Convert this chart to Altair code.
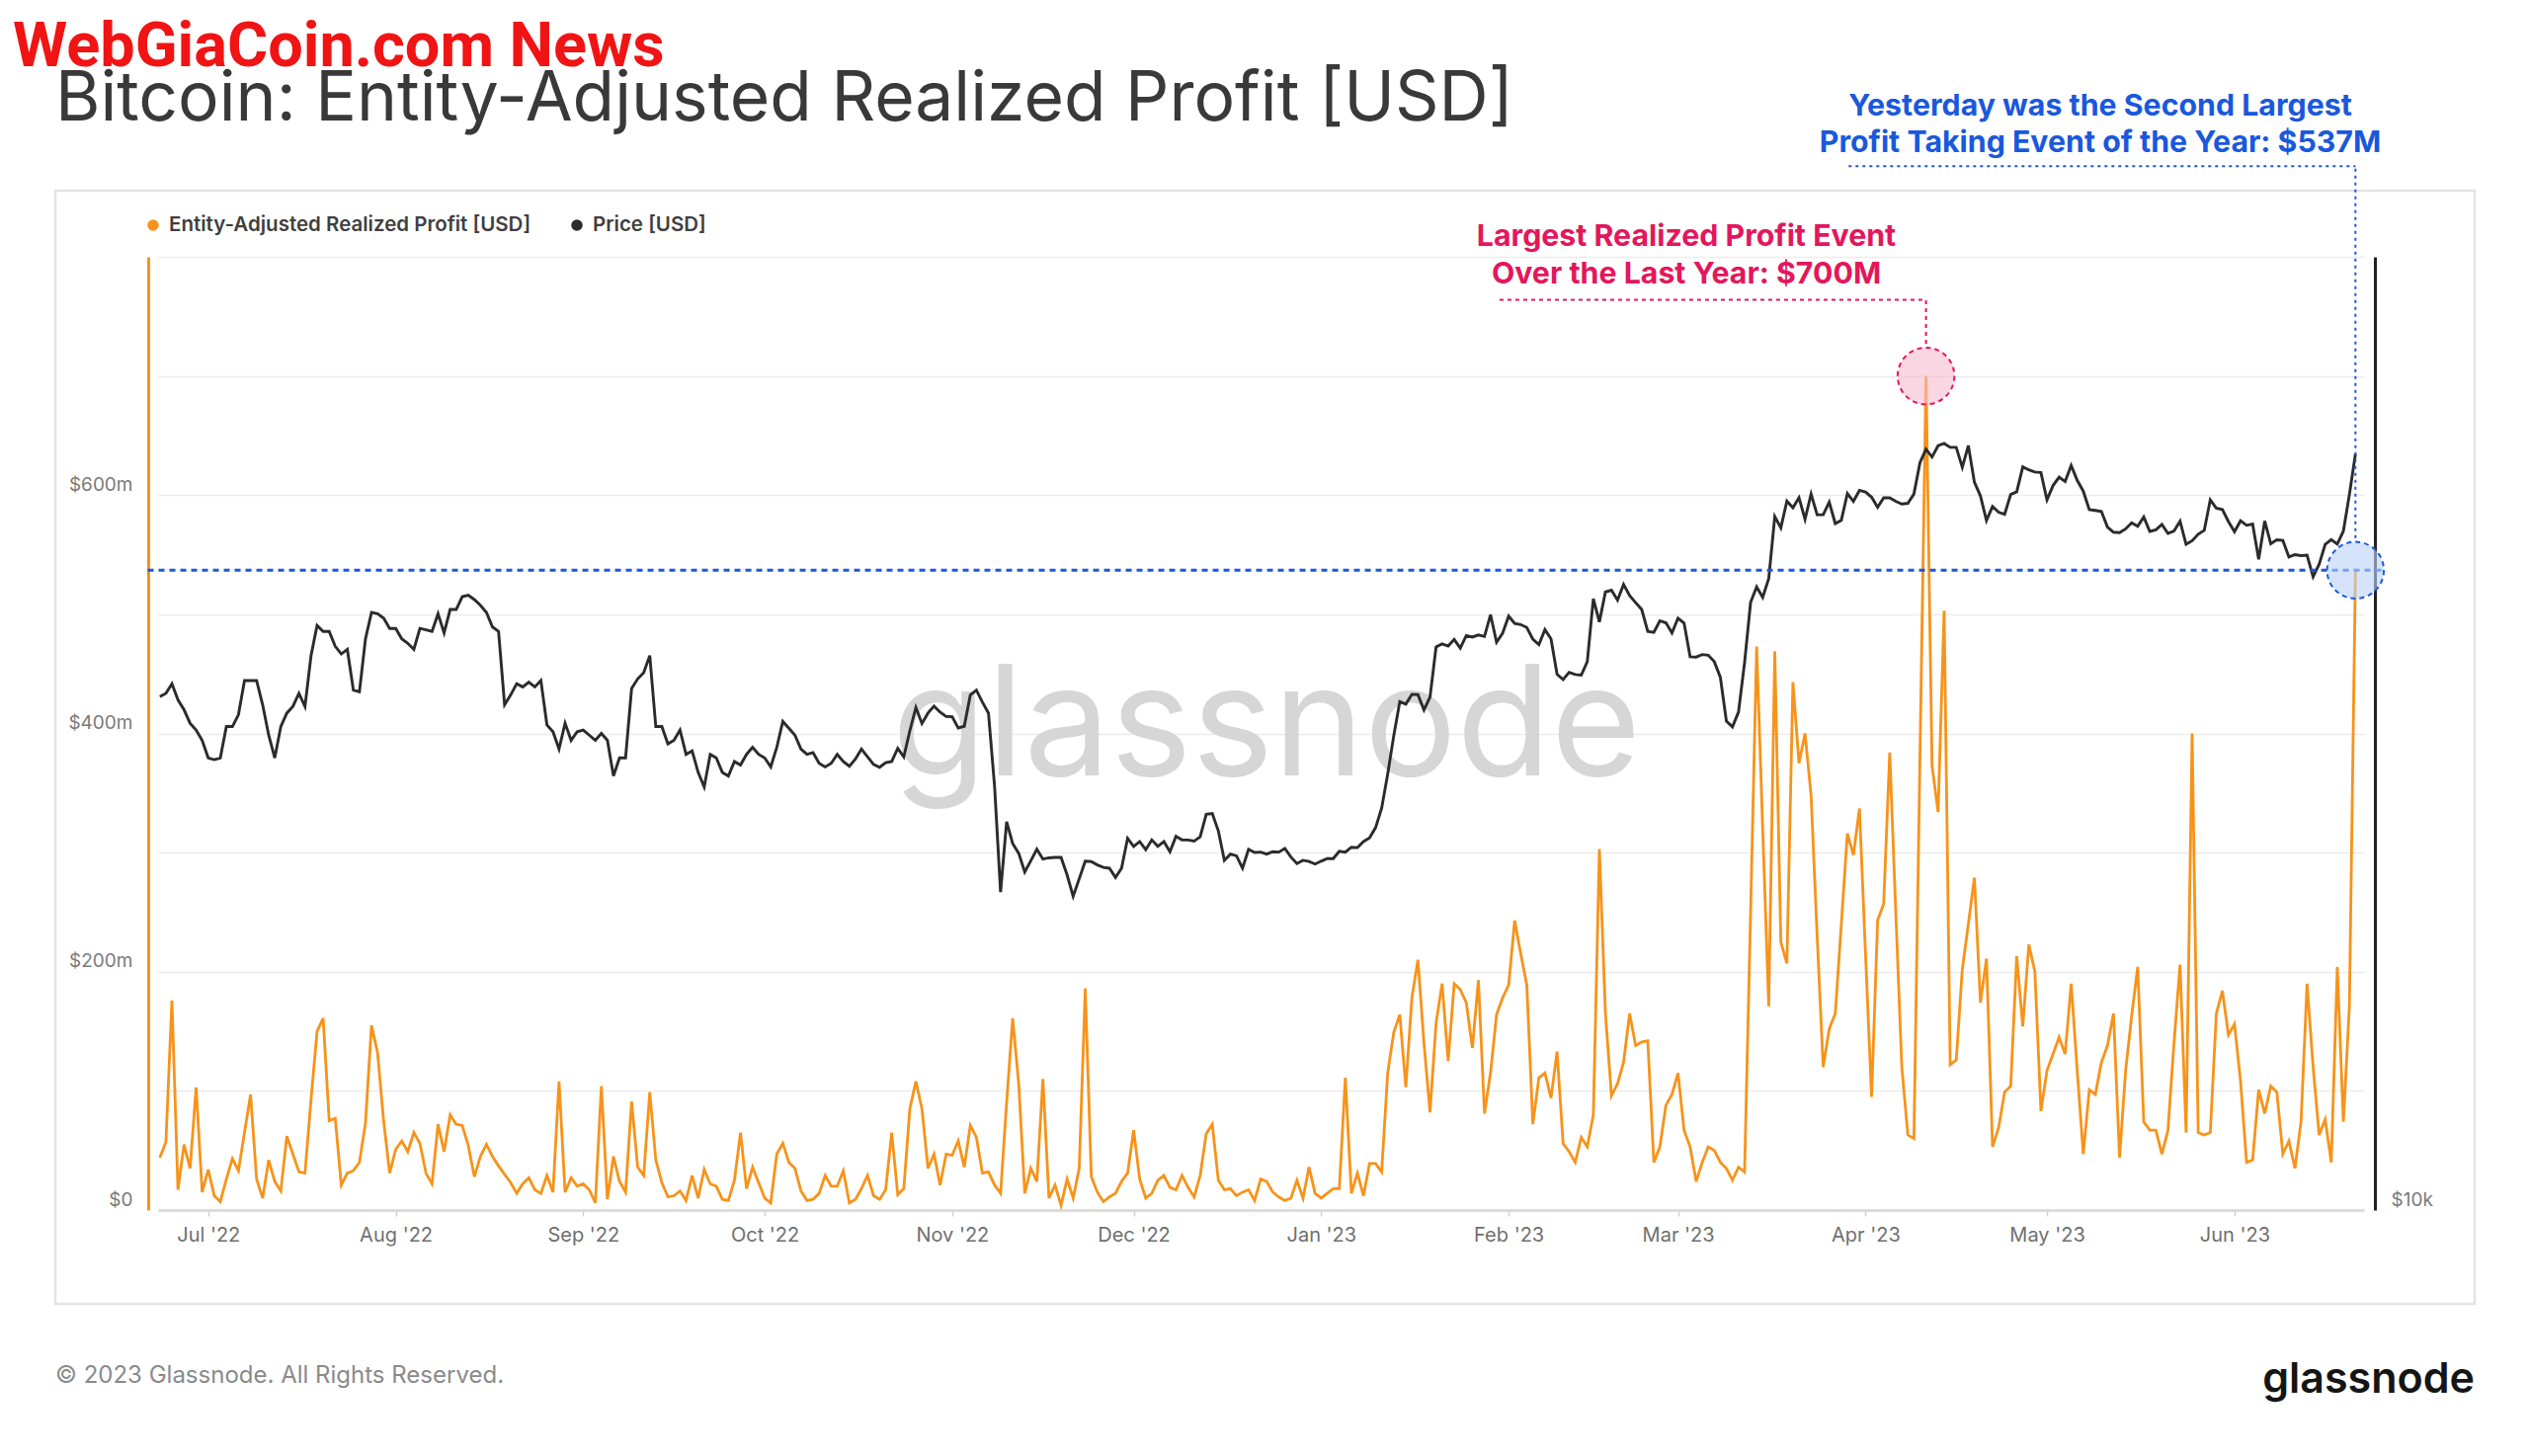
import altair as alt
import pandas as pd

# ---------------- data ----------------
START_DATE = "2022-06-23"

# Entity-adjusted realized profit, USD millions, one value per day from START_DATE
PROFIT_M = [
    44, 57, 176, 17, 55, 35, 103, 15, 34, 12,
    7, 26, 43, 33, 65, 97, 26, 10, 42, 24,
    16, 62, 47, 32, 31, 93, 150, 161, 75, 77,
    21, 31, 33, 40, 73, 155, 132, 75, 31, 51,
    58, 49, 65, 56, 31, 22, 72, 49, 80, 72,
    71, 54, 28, 45, 55, 45, 37, 30, 23, 14,
    22, 27, 17, 14, 29, 15, 108, 15, 27, 20,
    22, 17, 6, 104, 9, 45, 24, 15, 91, 36,
    29, 99, 42, 23, 11, 12, 16, 8, 29, 10,
    34, 22, 20, 9, 8, 25, 65, 18, 36, 23,
    10, 6, 47, 56, 40, 35, 16, 8, 9, 14,
    29, 20, 20, 33, 6, 9, 18, 29, 12, 9,
    17, 65, 13, 18, 85, 108, 85, 35, 47, 21,
    47, 46, 58, 36, 71, 61, 31, 32, 21, 14,
    90, 161, 106, 14, 35, 24, 110, 10, 21, 4,
    26, 10, 35, 186, 28, 15, 7, 11, 14, 24,
    31, 67, 26, 10, 14, 25, 29, 19, 17, 29,
    19, 11, 29, 64, 72, 25, 17, 18, 12, 15,
    17, 8, 26, 24, 15, 11, 8, 10, 25, 10,
    36, 14, 10, 14, 18, 18, 111, 14, 31, 12,
    39, 39, 32, 115, 149, 164, 103, 178, 210, 140,
    82, 157, 190, 125, 190, 185, 174, 136, 193, 81,
    115, 164, 178, 189, 243, 215, 189, 72, 111, 115,
    94, 133, 56, 49, 40, 61, 53, 80, 303, 165,
    96, 106, 124, 165, 138, 141, 142, 40, 53, 88,
    97, 115, 67, 53, 24, 40, 53, 50, 40, 35,
    25, 36, 32, 250, 473, 320, 171, 469, 225, 207,
    443, 375, 400, 348, 230, 120, 152, 165, 240, 316,
    298, 337, 215, 95, 243, 257, 384, 250, 120, 63,
    60, 380, 700, 373, 334, 503, 122, 126, 202, 240,
    279, 174, 211, 53, 69, 99, 104, 213, 154, 223,
    200, 83, 117, 131, 145, 131, 190, 117, 47, 101,
    97, 124, 138, 165, 44, 117, 163, 204, 74, 67,
    67, 47, 67, 140, 206, 65, 400, 65, 63, 65,
    165, 184, 147, 156, 108, 40, 42, 101, 81, 104,
    99, 47, 58, 35, 74, 190, 120, 63, 76, 40,
    204, 74, 171, 537,
]

# BTC price, USD thousands, same days
PRICE_K = [
    # Jun 23-30 2022
    21.1, 21.2, 21.5, 21.0, 20.7, 20.3, 20.1, 19.8,
    # Jul
    19.3, 19.25, 19.3, 20.2, 20.2, 20.55, 21.6, 21.6, 21.6, 20.85,
    19.95, 19.3, 20.2, 20.6, 20.8, 21.2, 20.8, 22.4, 23.4, 23.2,
    23.2, 22.7, 22.45, 22.6, 21.3, 21.25, 22.95, 23.85, 23.8, 23.65, 23.3,
    # Aug
    23.3, 22.95, 22.8, 22.6, 23.3, 23.25, 23.2, 23.8, 23.15, 23.95,
    23.95, 24.4, 24.45, 24.3, 24.1, 23.85, 23.35, 23.2, 20.85, 21.15,
    21.5, 21.4, 21.55, 21.4, 21.6, 20.25, 20.05, 19.55, 20.3, 19.8, 20.05,
    # Sep
    20.1, 19.95, 19.8, 20.0, 19.8, 18.8, 19.3, 19.3, 21.35, 21.65,
    21.85, 22.4, 20.2, 20.2, 19.7, 19.8, 20.1, 19.4, 19.5, 18.9,
    18.5, 19.4, 19.3, 18.9, 18.8, 19.2, 19.1, 19.4, 19.6, 19.4,
    # Oct
    19.3, 19.05, 19.6, 20.35, 20.15, 19.95, 19.55, 19.4, 19.45, 19.15,
    19.05, 19.15, 19.4, 19.2, 19.07, 19.27, 19.55, 19.33, 19.12, 19.04,
    19.17, 19.2, 19.57, 19.33, 20.08, 20.77, 20.29, 20.6, 20.81, 20.63, 20.5,
    # Nov
    20.49, 20.16, 20.21, 21.15, 21.3, 20.93, 20.6, 18.54, 15.88, 17.59,
    17.04, 16.8, 16.35, 16.62, 16.9, 16.66, 16.69, 16.7, 16.7, 16.28,
    15.78, 16.19, 16.61, 16.6, 16.52, 16.46, 16.44, 16.22, 16.44, 17.17,
    # Dec
    16.97, 17.09, 16.89, 17.13, 16.97, 17.09, 16.84, 17.22, 17.13, 17.13,
    17.1, 17.21, 17.78, 17.8, 17.36, 16.63, 16.78, 16.74, 16.44, 16.9,
    16.82, 16.83, 16.78, 16.84, 16.83, 16.92, 16.71, 16.55, 16.63, 16.6, 16.54,
    # Jan 2023
    16.61, 16.67, 16.67, 16.85, 16.83, 16.95, 16.94, 17.09, 17.18, 17.44,
    17.94, 18.85, 19.93, 20.95, 20.87, 21.17, 21.16, 20.69, 21.09, 22.68,
    22.78, 22.71, 22.93, 22.64, 23.06, 23.01, 23.08, 23.03, 23.77, 22.84, 23.14,
    # Feb
    23.72, 23.47, 23.43, 23.33, 22.94, 22.76, 23.26, 22.95, 21.8, 21.63,
    21.86, 21.79, 21.77, 22.2, 24.33, 23.52, 24.57, 24.63, 24.28, 24.84,
    24.44, 24.19, 23.95, 23.2, 23.17, 23.56, 23.49, 23.15,
    # Mar
    23.65, 23.48, 22.36, 22.35, 22.43, 22.41, 22.2, 21.7, 20.36, 20.19,
    20.63, 22.16, 24.2, 24.75, 24.38, 25.05, 27.42, 26.97, 28.04, 27.77,
    28.18, 27.31, 28.33, 27.49, 27.49, 28.0, 27.14, 27.27, 28.35, 28.03, 28.48,
    # Apr
    28.41, 28.2, 27.79, 28.17, 28.17, 28.03, 27.92, 27.95, 28.33, 29.65,
    30.24, 29.9, 30.39, 30.49, 30.32, 30.32, 29.45, 30.4, 28.82, 28.25,
    27.26, 27.82, 27.59, 27.51, 28.31, 28.42, 29.47, 29.34, 29.25, 29.23,
    # May
    28.09, 28.68, 29.03, 28.85, 29.53, 28.9, 28.45, 27.69, 27.66, 27.62,
    27.0, 26.8, 26.78, 26.93, 27.17, 27.03, 27.4, 26.83, 26.89, 27.1,
    26.75, 26.85, 27.23, 26.33, 26.47, 26.72, 26.87, 28.09, 27.75, 27.7, 27.22,
    # Jun
    26.82, 27.25, 27.07, 27.12, 25.76, 27.24, 26.35, 26.5, 26.48, 25.85,
    25.94, 25.9, 25.92, 25.12, 25.58, 26.33, 26.51, 26.34, 26.84, 28.31, 30.03,
]

SERIES_NAMES = ["Entity-Adjusted Realized Profit [USD]", "Price [USD]"]
MONTH_TICKS = [(2022, m) for m in range(7, 13)] + [(2023, m) for m in range(1, 7)]

# annotation values
PEAK_DATE, PEAK_VALUE = "2023-04-11T00:00:00", 700
LAST_DATE, LAST_VALUE = "2023-06-21T00:00:00", 537
REF_LINE_SPAN = ["2022-06-21T00:00:00", "2023-06-26T00:00:00"]
PINK_LEADER = {"x_start": "2023-01-30T12:00:00", "y_low": 727, "y_elbow": 764}
BLUE_LEADER = {"x_start": "2023-03-29T05:00:00", "y_low": 564, "y_elbow": 876}
PINK_TEXT = ["Largest Realized Profit Event", "Over the Last Year: $700M"]
BLUE_TEXT = ["Yesterday was the Second Largest", "Profit Taking Event of the Year: $537M"]

assert len(PROFIT_M) == len(PRICE_K) == 364

dates = pd.date_range(START_DATE, periods=len(PROFIT_M), freq="D")
df = pd.DataFrame({
    "date": [d.strftime("%Y-%m-%dT00:00:00") for d in dates],
    "profit": PROFIT_M,
    "price": [p * 1000 for p in PRICE_K],
})

# ---------------- styles ----------------
ORANGE = "#f7931a"
BLACK = "#2b2b2b"
BLUE = "#1a58dc"
PINK = "#e3175c"
FONT = "Inter"

X_SCALE = alt.Scale(
    domain=[alt.DateTime(year=2022, month=6, date=22, hours=17),
            alt.DateTime(year=2023, month=6, date=22, hours=10)],
    nice=False,
)
Y_PROFIT = alt.Scale(domain=[0, 800], nice=False, zero=False)
Y_PRICE = alt.Scale(type="log", domain=[10000, 40000], nice=False)

X_AXIS = alt.Axis(
    orient="bottom",
    values=[alt.DateTime(year=y, month=m, date=1) for y, m in MONTH_TICKS],
    labelExpr="timeFormat(datum.value, \"%b '%y\")",
    title=None, grid=False,
    domain=True, domainColor="#dcdcdc", domainWidth=3,
    ticks=True, tickColor="#d0d0d0", tickSize=6, tickWidth=1.5,
    labelPadding=9, labelFontSize=20, labelColor="#6f6f6f", labelFont=FONT,
    labelFlush=False, labelOverlap=False,
)

LEFT_AXIS = alt.Axis(
    orient="left", title=None,
    values=list(range(0, 801, 100)),
    labelExpr="(datum.value % 200 == 0 && datum.value < 800) ? ('$' + datum.value + (datum.value == 0 ? '' : 'm')) : ''",
    grid=True, gridColor="#ececec", gridWidth=1.5,
    domain=True, domainColor=ORANGE, domainWidth=3, offset=10,
    ticks=False, tickSize=0,
    labelPadding=16, labelFontSize=19, labelColor="#7a7a7a", labelFont=FONT,
    labelOffset=-11,
)

RIGHT_AXIS = alt.Axis(
    orient="right", title=None,
    values=[10000], labelExpr="'$10k'",
    grid=False, domain=True, domainColor="#222222", domainWidth=3, offset=11,
    ticks=False, tickSize=0,
    labelPadding=16, labelFontSize=19, labelColor="#7a7a7a", labelFont=FONT,
    labelOffset=-11,
)

ONE = pd.DataFrame({"k": [0]})


def xpos(field):
    return alt.X(field, type="temporal", scale=X_SCALE, axis=X_AXIS)


def ypos(field):
    return alt.Y(field, type="quantitative", scale=Y_PROFIT, axis=None)


# ---------------- decorations behind ----------------
frame = alt.Chart(ONE).mark_rect(fillOpacity=0, stroke="#e4e4e4", strokeWidth=2.5).encode(
    x=alt.value(-104), x2=alt.value(2345), y=alt.value(-67), y2=alt.value(1060)
)
watermark = alt.Chart(ONE).mark_text(
    text="glassnode", font=FONT, fontSize=156, color="#d6d6d6", align="center", baseline="alphabetic"
).encode(x=alt.value(1122), y=alt.value(525))

# ---------------- series ----------------
profit_line = alt.Chart(df).mark_line(color=ORANGE, strokeWidth=2.8).encode(
    x=xpos("date"),
    y=alt.Y("profit:Q", scale=Y_PROFIT, axis=LEFT_AXIS),
)
price_line = alt.Chart(df).mark_line(color=BLACK, strokeWidth=2.9).encode(
    x=xpos("date"),
    y=alt.Y("price:Q", scale=Y_PRICE, axis=RIGHT_AXIS),
)

# ---------------- annotations (profit space) ----------------
ref_df = pd.DataFrame({"x": [REF_LINE_SPAN[0]], "x2": [REF_LINE_SPAN[1]], "y": [LAST_VALUE]})
ref_line = alt.Chart(ref_df).mark_rule(color=BLUE, strokeWidth=3.2, strokeDash=[6, 5]).encode(
    x=xpos("x"), x2=alt.X2("x2"), y=ypos("y")
)

pink_v = alt.Chart(pd.DataFrame({"x": [PEAK_DATE], "y": [PINK_LEADER["y_low"]], "y2": [PINK_LEADER["y_elbow"]]})
                   ).mark_rule(color=PINK, strokeWidth=2, strokeDash=[4, 4]).encode(
    x=xpos("x"), y=ypos("y"), y2=alt.Y2("y2"))
pink_h = alt.Chart(pd.DataFrame({"x": [PINK_LEADER["x_start"]], "x2": [PEAK_DATE], "y": [PINK_LEADER["y_elbow"]]})
                   ).mark_rule(color=PINK, strokeWidth=2, strokeDash=[4, 4]).encode(
    x=xpos("x"), x2=alt.X2("x2"), y=ypos("y"))
blue_v = alt.Chart(pd.DataFrame({"x": [LAST_DATE], "y": [BLUE_LEADER["y_low"]], "y2": [BLUE_LEADER["y_elbow"]]})
                   ).mark_rule(color=BLUE, strokeWidth=2, strokeDash=[3, 4]).encode(
    x=xpos("x"), y=ypos("y"), y2=alt.Y2("y2"))
blue_h = alt.Chart(pd.DataFrame({"x": [BLUE_LEADER["x_start"]], "x2": [LAST_DATE], "y": [BLUE_LEADER["y_elbow"]]})
                   ).mark_rule(color=BLUE, strokeWidth=2, strokeDash=[3, 4]).encode(
    x=xpos("x"), x2=alt.X2("x2"), y=ypos("y"))

pink_circle = alt.Chart(pd.DataFrame({"x": [PEAK_DATE], "y": [PEAK_VALUE]})).mark_circle(
    size=3300, color="#f7b9cf", fillOpacity=0.6, opacity=1, stroke=PINK, strokeWidth=2, strokeDash=[5, 4]
).encode(x=xpos("x"), y=ypos("y"))
blue_circle = alt.Chart(pd.DataFrame({"x": [LAST_DATE], "y": [LAST_VALUE]})).mark_circle(
    size=3300, color="#b9d2f6", fillOpacity=0.6, opacity=1, stroke=BLUE, strokeWidth=2, strokeDash=[5, 4]
).encode(x=xpos("x"), y=ypos("y"))

annotations = alt.layer(ref_line, pink_v, pink_h, blue_v, blue_h, pink_circle, blue_circle)

# ---------------- texts ----------------
title = alt.Chart(ONE).mark_text(
    text="Bitcoin: Entity-Adjusted Realized Profit [USD]", font=FONT, fontSize=69.5,
    color="#393939", align="left", baseline="alphabetic"
).encode(x=alt.value(-104), y=alt.value(-138))

brand = alt.Chart(ONE).mark_text(
    text="WebGiaCoin.com News", font="Roboto",
    fontSize=63, fontWeight="bold", color="#f01414", align="left", baseline="alphabetic"
).encode(x=alt.value(-147), y=alt.value(-193))

leg_dot1 = alt.Chart(ONE).mark_circle(size=133, color=ORANGE, opacity=1).encode(x=alt.value(-5), y=alt.value(-32))
leg_txt1 = alt.Chart(ONE).mark_text(
    text=SERIES_NAMES[0], font=FONT, fontSize=20.5, fontWeight=600, color="#3f3f3f", align="left", baseline="middle"
).encode(x=alt.value(11), y=alt.value(-32))
leg_dot2 = alt.Chart(ONE).mark_circle(size=133, color=BLACK, opacity=1).encode(x=alt.value(424), y=alt.value(-32))
leg_txt2 = alt.Chart(ONE).mark_text(
    text=SERIES_NAMES[1], font=FONT, fontSize=20.5, fontWeight=600, color="#3f3f3f", align="left", baseline="middle"
).encode(x=alt.value(440), y=alt.value(-32))

pink_text = alt.Chart(ONE).mark_text(
    text=PINK_TEXT, font=FONT, fontSize=30.3, fontWeight="bold", color=PINK,
    align="center", baseline="alphabetic", lineHeight=38
).encode(x=alt.value(1547), y=alt.value(-11))
blue_text = alt.Chart(ONE).mark_text(
    text=BLUE_TEXT, font=FONT, fontSize=30.3, fontWeight="bold", color=BLUE,
    align="center", baseline="alphabetic", lineHeight=37
).encode(x=alt.value(1966), y=alt.value(-143))

footer = alt.Chart(ONE).mark_text(
    text="© 2023 Glassnode. All Rights Reserved.", font=FONT, fontSize=24, color="#8a8a8a",
    align="left", baseline="middle"
).encode(x=alt.value(-104), y=alt.value(1133))
logo = alt.Chart(ONE).mark_text(
    text="glassnode", font=FONT, fontSize=43, fontWeight=600, color="#151515",
    align="right", baseline="alphabetic"
).encode(x=alt.value(2345), y=alt.value(1150))

chart = alt.layer(
    frame, watermark, profit_line, price_line, annotations,
    title, brand, leg_dot1, leg_txt1, leg_dot2, leg_txt2, pink_text, blue_text, footer, logo,
).resolve_scale(y="independent").properties(
    width=2233, height=965,
    autosize="none",
    padding={"left": 152, "top": 252, "right": 159, "bottom": 249},
    background="white",
).configure_view(strokeWidth=0)

chart.save("out.html", embed_options={"renderer": "svg", "actions": False})
